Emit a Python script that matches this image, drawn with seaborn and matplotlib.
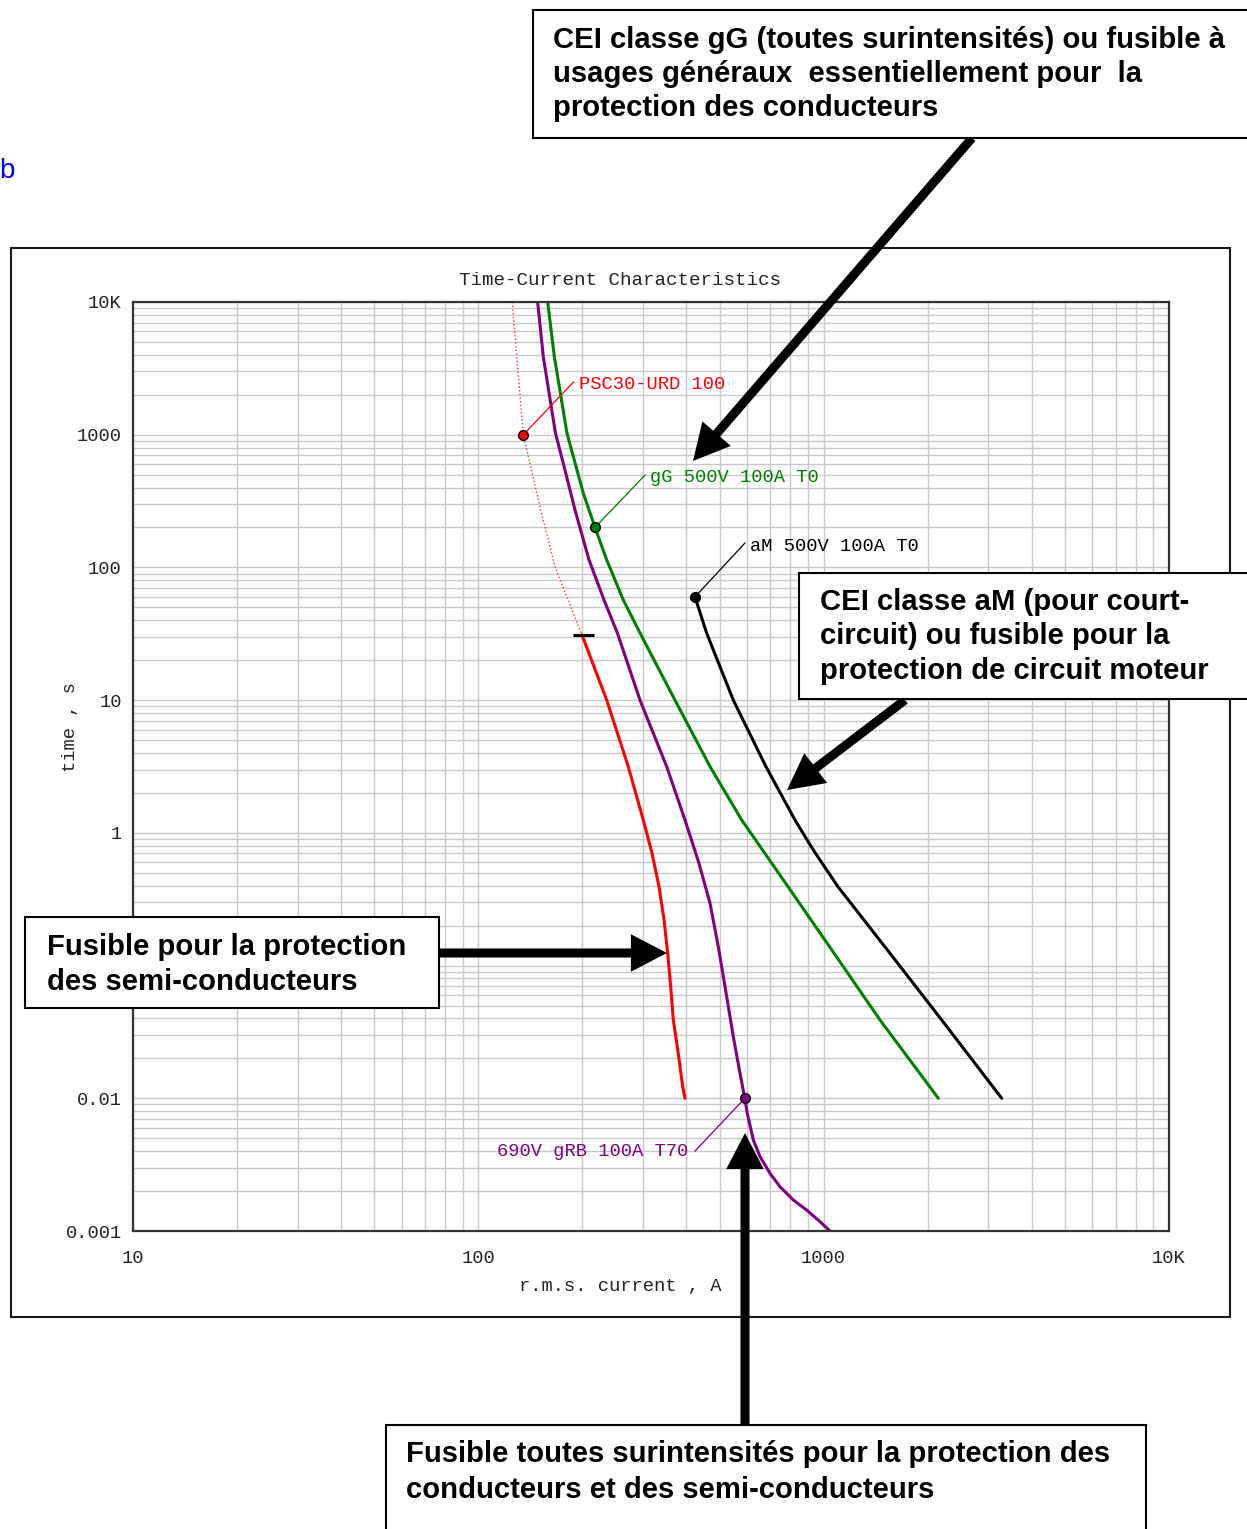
import matplotlib
matplotlib.use("Agg")
import matplotlib.pyplot as plt
import numpy as np
import pandas as pd
import seaborn as sns
from matplotlib.patches import Rectangle, FancyArrowPatch, ArrowStyle
from matplotlib.ticker import LogLocator, FixedLocator, FixedFormatter, NullFormatter

# ---- time-current curves (current in A, pre-arcing time in s) ----
grb_current = [148.5, 154.2, 167.3, 178.2, 190.5, 209.2, 231.2, 252.9, 293.9, 351.2, 396.7, 435.5, 468.8,
               495.3, 523.9, 547.5, 572.5, 591, 600.9, 625.6, 654.2, 699.2, 747.3, 817, 893, 975.9, 1043]
grb_time = [10000, 3872, 1025, 542, 271, 113.8, 56.8, 31.9, 10, 3.15, 1.25, 0.589, 0.2944,
            0.1387, 0.0582, 0.0291, 0.01542, 0.01, 0.0077, 0.00485, 0.00363, 0.00272, 0.002156,
            0.001711, 0.001439, 0.001175, 0.001]

gg_current = [158.8, 166, 180.6, 201.4, 217.7, 235.4, 263, 294, 371, 469, 579, 645, 788.4, 1072, 1456, 2148]
gg_time = [10000, 3872, 1025, 361.8, 200, 113.8, 56.8, 32, 10, 3.15, 1.25, 0.834, 0.393, 0.1237, 0.0389, 0.01]

am_current = [424, 458.5, 547.5, 680.8, 826, 933, 1100, 1556, 2197, 3278]
am_time = [60, 31.9, 10, 3.15, 1.25, 0.743, 0.393, 0.1237, 0.0389, 0.01]

urd_cold_current = [125.4, 129.2, 135, 151.6, 166.7, 199.5]
urd_cold_time = [10000, 3872, 1000, 271, 101, 31.1]
urd_current = [199.5, 235.4, 271.8, 300.4, 318.4, 333.6, 345, 353.5, 360.6, 366.9, 379.3, 390.7, 396.7]
urd_time = [31.1, 10, 3.15, 1.25, 0.701, 0.393, 0.2204, 0.1237, 0.0693, 0.0389, 0.0218, 0.01222, 0.01]

# curve markers and their labels
marker_current = [135, 217.7, 424, 591]
marker_time = [1000, 200, 60, 0.01]
marker_colors = ["#ff0000", "#008000", "#000000", "#800080"]
curve_labels = ["PSC30-URD 100", "gG 500V 100A T0", "aM 500V 100A T0", "690V gRB 100A T70"]
label_current = [196, 314, 612, 405]
label_time = [2410, 472, 143, 0.0040]
leader_end_current = [189, 304, 592, 424]
leader_end_time = [2508, 497, 153, 0.0040]

# short bar where the URD curve becomes solid
urd_bar_current = [188, 216]
urd_bar_time = [31.1, 31.1]

x_ticks = [10, 100, 1000, 10000]
x_ticklabels = ["10", "100", "1000", "10K"]
y_ticks = [0.001, 0.01, 0.1, 1, 10, 100, 1000, 10000]
y_ticklabels = ["0.001", "0.01", "", "1", "10", "100", "1000", "10K"]

W, H = 1247, 1529
sns.set_theme(style="white")
plt.rcParams["font.family"] = ["Liberation Mono", "DejaVu Sans Mono"]

fig = plt.figure(figsize=(W / 100, H / 100), dpi=100)
fig.patch.set_facecolor("white")


def fx(px):
    return px / W


def fy(py):
    return 1 - py / H


ax = fig.add_axes([fx(133), fy(1231), (1169 - 133) / W, (1231 - 302) / H])
ax.set_xscale("log")
ax.set_yscale("log")
ax.set_xlim(10, 10000)
ax.set_ylim(0.001, 10000)

ax.xaxis.set_major_locator(FixedLocator(x_ticks))
ax.xaxis.set_major_formatter(FixedFormatter(x_ticklabels))
ax.yaxis.set_major_locator(FixedLocator(y_ticks))
ax.yaxis.set_major_formatter(FixedFormatter(y_ticklabels))
ax.xaxis.set_minor_locator(LogLocator(base=10, subs=np.arange(2, 10), numticks=20))
ax.yaxis.set_minor_locator(LogLocator(base=10, subs=np.arange(2, 10), numticks=20))
ax.xaxis.set_minor_formatter(NullFormatter())
ax.yaxis.set_minor_formatter(NullFormatter())
ax.grid(which="both", color="#c8c8c8", lw=1.0)
ax.set_axisbelow(True)
ax.tick_params(which="both", length=0, labelsize=13.5, colors="#222222")
ax.tick_params(axis="y", pad=8)
ax.tick_params(axis="x", pad=14)
for s in ax.spines.values():
    s.set_color("#333333")
    s.set_linewidth(1.6)

tc = "#222222"
ax.set_title("Time-Current Characteristics", fontsize=13.8, color=tc, pad=12,
             x=(620 - 133) / 1036)
ax.set_xlabel("r.m.s. current , A", fontsize=13.5, color=tc)
ax.xaxis.set_label_coords((620 - 133) / 1036, (1231 - 1286) / 929)
ax.xaxis.label.set_va("center")
ax.set_ylabel("time , s", fontsize=13.5, color=tc)
ax.yaxis.set_label_coords((70 - 133) / 1036, (1231 - 727) / 929)
ax.yaxis.label.set_va("center")

# curves
sns.lineplot(data=pd.DataFrame({"I": urd_cold_current, "t": urd_cold_time}), x="I", y="t",
             color="#ff3030", lw=1.0, linestyle=":", sort=False, estimator=None, ax=ax)
sns.lineplot(data=pd.DataFrame({"I": urd_current, "t": urd_time}), x="I", y="t",
             color="#ff0000", lw=2.2, sort=False, estimator=None, ax=ax)
sns.lineplot(data=pd.DataFrame({"I": grb_current, "t": grb_time}), x="I", y="t",
             color="#800080", lw=2.2, sort=False, estimator=None, ax=ax)
sns.lineplot(data=pd.DataFrame({"I": gg_current, "t": gg_time}), x="I", y="t",
             color="#008000", lw=2.2, sort=False, estimator=None, ax=ax)
sns.lineplot(data=pd.DataFrame({"I": am_current, "t": am_time}), x="I", y="t",
             color="#000000", lw=2.2, sort=False, estimator=None, ax=ax)
ax.plot(urd_bar_current, urd_bar_time, color="#000000", lw=2.2, solid_capstyle="butt")

for xi, yi, c, lab, lx, ly, ex, ey in zip(marker_current, marker_time, marker_colors, curve_labels,
                                         label_current, label_time, leader_end_current, leader_end_time):
    ax.plot([xi, ex], [yi, ey], color=c, lw=0.9, zorder=4)
    ax.plot([xi], [yi], "o", ms=7, mfc=c, mec="#000000", mew=1.0, zorder=6)
    ha = "right" if lab.startswith("690") else "left"
    ax.text(lx, ly, lab, color=c, fontsize=13.5, ha=ha, va="center", zorder=6)

# outer frame around the chart
fig.add_artist(Rectangle((fx(11), fy(1317)), (1230 - 11) / W, (1317 - 248) / H,
                         transform=fig.transFigure, fill=False, ec="#1a1a1a", lw=1.5, zorder=1))

fig.text(fx(-1), fy(171), "b", color="#0000ff", fontsize=20, ha="left", va="center",
         family=["Liberation Sans", "DejaVu Sans"])


def callout(x0, y0, x1, y1, lines, tx, ty, dy):
    fig.add_artist(Rectangle((fx(x0), fy(y1)), (x1 - x0) / W, (y1 - y0) / H,
                             transform=fig.transFigure, fc="white", ec="#000000", lw=1.5, zorder=20))
    for i, ln in enumerate(lines):
        fig.text(fx(tx), fy(ty + i * dy), ln, fontsize=21.1, fontweight="bold", color="#000000",
                 ha="left", va="center", family=["Liberation Sans", "DejaVu Sans"], zorder=21)


def arrow(x0, y0, x1, y1):
    fig.add_artist(FancyArrowPatch((fx(x0), fy(y0)), (fx(x1), fy(y1)), transform=fig.transFigure,
                                   arrowstyle=ArrowStyle.Simple(head_length=26, head_width=27, tail_width=6.5),
                                   mutation_scale=1, shrinkA=0, shrinkB=0, fc="#000000", lw=0, zorder=19))


callout(533, 10, 1262, 138,
        ["CEI classe gG (toutes surintensités) ou fusible à",
         "usages généraux  essentiellement pour  la",
         "protection des conducteurs"], 553, 40, 34)
callout(799, 573, 1262, 699,
        ["CEI classe aM (pour court-",
         "circuit) ou fusible pour la",
         "protection de circuit moteur"], 820, 602, 34.5)
callout(25, 917, 439, 1008,
        ["Fusible pour la protection",
         "des semi-conducteurs"], 47, 947, 35)
callout(386, 1425, 1146, 1545,
        ["Fusible toutes surintensités pour la protection des",
         "conducteurs et des semi-conducteurs"], 406, 1454, 36)

arrow(972, 138, 693, 461)
arrow(905, 700, 787, 790)
arrow(439, 953, 667, 953)
arrow(745, 1425, 745, 1133)

fig.savefig("out.png", dpi=100, facecolor="white")
